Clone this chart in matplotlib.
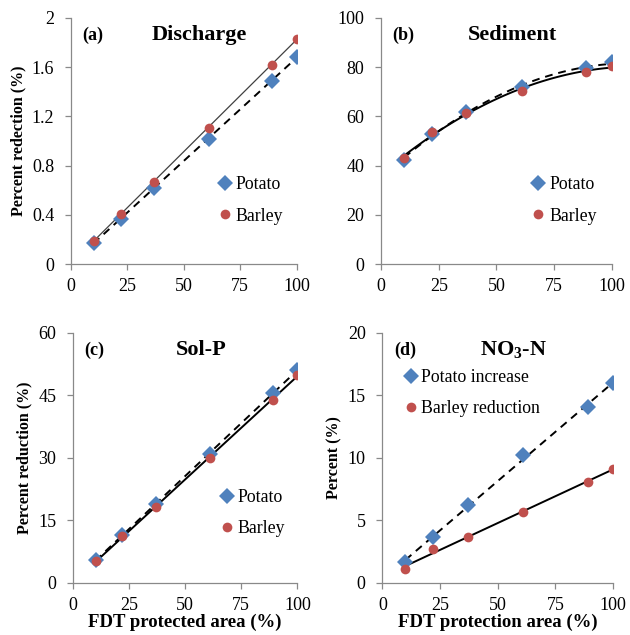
import numpy as np
import matplotlib as mpl
mpl.use('Agg')
import matplotlib.pyplot as plt
from matplotlib.ticker import FuncFormatter

plt.rcParams['font.family'] = ['Liberation Serif', 'DejaVu Serif']
plt.rcParams['mathtext.fontset'] = 'custom'
plt.rcParams['mathtext.rm'] = 'Liberation Serif'
plt.rcParams['mathtext.bf'] = 'Liberation Serif:bold'

# FDT protected area (%)
area = [10, 22, 37, 61, 89, 100]

discharge_potato = [0.17, 0.37, 0.62, 1.02, 1.49, 1.68]
discharge_barley = [0.19, 0.41, 0.67, 1.11, 1.62, 1.83]

sediment_potato = [42.5, 53.0, 62.0, 72.0, 79.5, 82.0]
sediment_barley = [43.0, 53.5, 61.5, 70.5, 78.0, 80.5]

solp_potato = [5.5, 11.5, 19.0, 31.0, 45.5, 51.2]
solp_barley = [5.2, 11.2, 18.2, 30.0, 44.0, 50.0]

no3_potato = [1.7, 3.7, 6.2, 10.2, 14.1, 16.0]
no3_barley = [1.1, 2.7, 3.7, 5.7, 8.1, 9.1]

blue = '#4F81BD'
red = '#C0504D'
spine_col = '#898989'

fig = plt.figure(figsize=(6.3, 6.35), dpi=100)

panels = [
    # rect, potato, barley, ylim, yticks, fit order, tag, title, ylabel, xlabel, legend labels, legend anchor
    ([0.1127, 0.584, 0.358, 0.3877], discharge_potato, discharge_barley, 2, [0, 0.4, 0.8, 1.2, 1.6, 2],
     1, '(a)', 'Discharge', 'Percent redection (%)', None, ('Potato', 'Barley'), (0.605, 0.385), 'gray'),
    ([0.605, 0.584, 0.366, 0.3877], sediment_potato, sediment_barley, 100, [0, 20, 40, 60, 80, 100],
     2, '(b)', 'Sediment', None, None, ('Potato', 'Barley'), (0.605, 0.385), 'black'),
    ([0.116, 0.0819, 0.356, 0.3937], solp_potato, solp_barley, 60, [0, 15, 30, 45, 60],
     1, '(c)', 'Sol-P', 'Percent reduction (%)', 'FDT protected area (%)', ('Potato', 'Barley'), (0.605, 0.405), 'black'),
    ([0.607, 0.0819, 0.366, 0.3937], no3_potato, no3_barley, 20, [0, 5, 10, 15, 20],
     1, '(d)', r'NO$_\mathbf{3}$-N', 'Percent (%)', 'FDT protection area (%)',
     ('Potato increase', 'Barley reduction'), (0.045, 0.885), 'black'),
]

fmt = FuncFormatter(lambda v, p: '{:g}'.format(v))

for rect, pot, bar, ymax, yticks, order, tag, title, ylab, xlab, labels, anchor, bcol in panels:
    ax = fig.add_axes(rect)
    x = np.array(area, dtype=float)
    xs = np.linspace(x.min(), x.max(), 100)

    # trend lines
    cp = np.polyfit(x, pot, order)
    cb = np.polyfit(x, bar, order)
    lw_b = 0.9 if bcol == 'gray' else 1.4
    ax.plot(xs, np.polyval(cb, xs), color='#404040' if bcol == 'gray' else 'black', lw=lw_b, zorder=2)
    ax.plot(xs, np.polyval(cp, xs), color='black', lw=1.4, ls=(0, (4, 3)), zorder=2)

    ax.plot(x, pot, 'D', color=blue, ms=8.5, mew=0, label=labels[0], zorder=3)
    ax.plot(x, bar, 'o', color=red, ms=7, mew=0, label=labels[1], zorder=4)

    ax.set_xlim(0, 100)
    ax.set_ylim(0, ymax)
    ax.set_xticks([0, 25, 50, 75, 100])
    ax.set_yticks(yticks)
    ax.yaxis.set_major_formatter(fmt)
    for s in ['top', 'right']:
        ax.spines[s].set_visible(False)
    for s in ['left', 'bottom']:
        ax.spines[s].set_color(spine_col)
        ax.spines[s].set_linewidth(0.9)
    ax.tick_params(colors=spine_col, labelcolor='black', labelsize=13, length=4, width=0.9)
    ax.tick_params(axis='x', pad=6)
    ax.tick_params(axis='y', pad=8)

    ax.text(0.05, 0.93, tag, transform=ax.transAxes, fontsize=13, fontweight='bold', va='center', ha='left')
    ax.text(0.57, 0.93, title, transform=ax.transAxes, fontsize=16, fontweight='bold', va='center', ha='center')

    if ylab:
        ax.set_ylabel(ylab, fontsize=11.5, fontweight='bold', labelpad=4)
    if xlab:
        ax.set_xlabel(xlab, fontsize=13.5, fontweight='bold', labelpad=0)

    ax.legend(loc='upper left', bbox_to_anchor=anchor, frameon=False, fontsize=12.8,
              handletextpad=0.0, handlelength=1.2, labelspacing=0.8, borderaxespad=0)

fig.savefig('out.png', dpi=100)
